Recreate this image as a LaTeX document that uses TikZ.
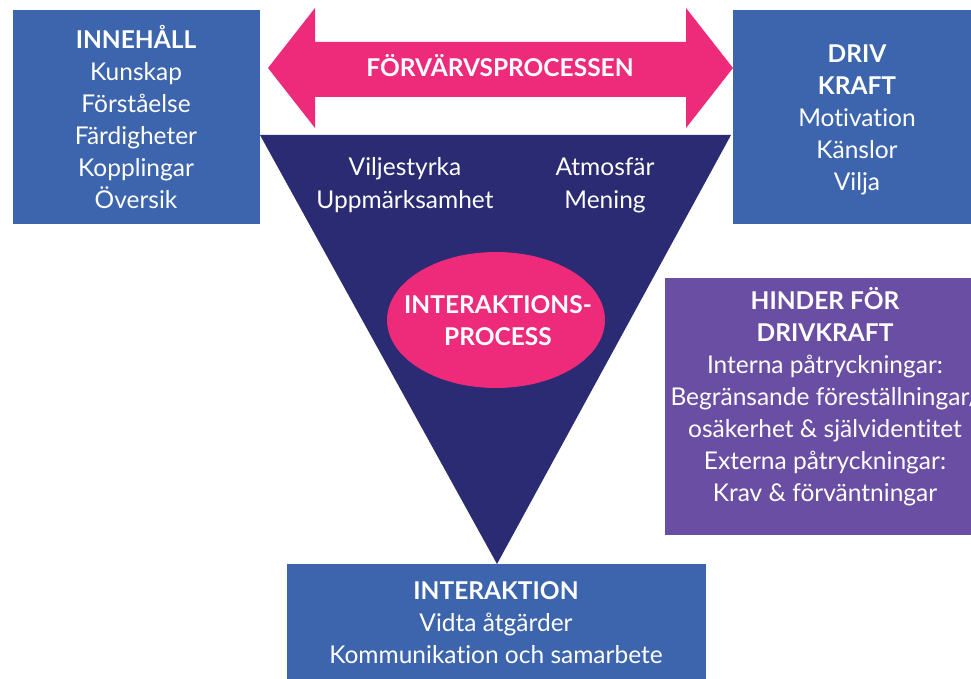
\documentclass[tikz,border=0pt]{standalone}
\usepackage{fontspec}
\setmainfont{Lato}[Ligatures=CommonOff]
\usepackage{tikz}
\usetikzlibrary{shapes.geometric}

\definecolor{boxblue}{HTML}{3D65AD}
\definecolor{hotpink}{HTML}{EE2A7B}
\definecolor{navy}{HTML}{2A2B72}
\definecolor{violet}{HTML}{6A4EA4}

\begin{document}
\begin{tikzpicture}[x=1pt, y=-1pt,
	box/.style={fill=boxblue, inner sep=0pt, anchor=north west},
	txt/.style={text=white, align=center, inner sep=0pt,
		font=\fontsize{24.5}{32}\selectfont},
	head/.style={font=\fontsize{24.5}{32}\selectfont\bfseries}]
	\useasboundingbox (0,0) rectangle (971,679);

	% boxes
	\node[box, minimum width=247, minimum height=214] (content) at (13,10) {};
	\node[box, minimum width=238, minimum height=214] (drive) at (733,10) {};
	\node[box, fill=violet, minimum width=306, minimum height=257] (barrier) at (665,278) {};
	\node[box, minimum width=419, minimum height=116] (action) at (287,564) {};

	% triangle and double arrow
	\fill[navy] (260,135) -- (731,135) -- (497,564) -- cycle;
	\fill[hotpink] (268,68) -- (315,8) -- (315,42) -- (686,42) -- (686,8)
		-- (733,68) -- (686,128) -- (686,97) -- (315,97) -- (315,128) -- cycle;
	\node[ellipse, fill=hotpink, minimum width=218, minimum height=136, inner sep=0pt]
		(process) at (496,320) {};

	% texts
	\node[txt] (contenttxt) at (136,117) {{\bfseries INNEHÅLL}\\Kunskap\\Förståelse\\Färdigheter\\Kopplingar\\Översik};
	\node[txt] (drivetxt) at (857,120) {{\bfseries DRIV}\\{\bfseries KRAFT}\\Motivation\\Känslor\\Vilja};
	\node[txt] (barriertxt) at (825,397) {{\bfseries HINDER FÖR}\\{\bfseries DRIVKRAFT}\\Interna påtryckningar:\\Begränsande föreställningar/\\osäkerhet \& självidentitet\\Externa påtryckningar:\\Krav \& förväntningar};
	\node[txt] (actiontxt) at (496,623) {{\bfseries INTERAKTION}\\Vidta åtgärder\\Kommunikation och samarbete};
	\node[txt, head] (arrowtxt) at (500,66) {FÖRVÄRVSPROCESSEN};
	\node[txt, font=\fontsize{24.5}{33}\selectfont] (will) at (405,185) {Viljestyrka\\Uppmärksamhet};
	\node[txt, font=\fontsize{24.5}{33}\selectfont] (mood) at (605,185) {Atmosfär\\Mening};
	\node[txt, head] (processtxt) at (498,321) {INTERAKTIONS-\\PROCESS};
\end{tikzpicture}
\end{document}
